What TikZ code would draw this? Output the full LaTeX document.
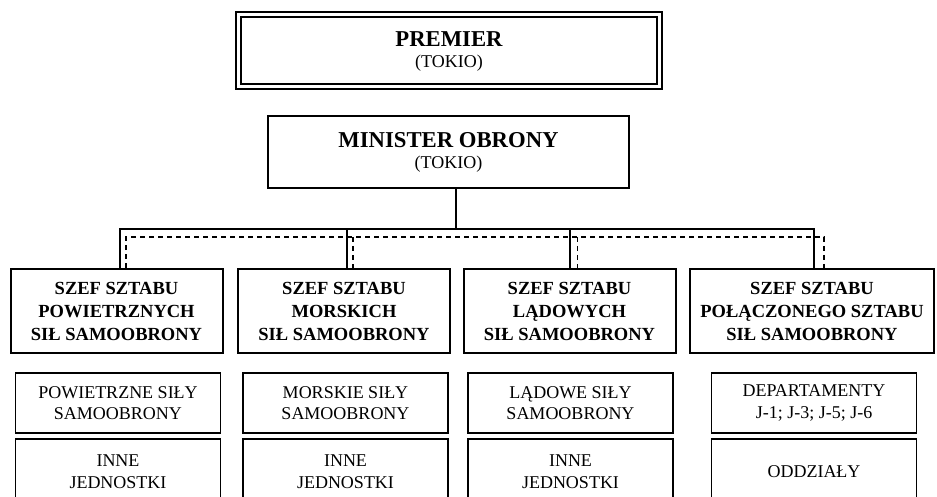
\documentclass[tikz,border=0pt]{standalone}
\usepackage{fontspec}
\setmainfont{Liberation Serif}
\usetikzlibrary{positioning}
\newcommand{\tytul}[1]{{\fontsize{22.7}{21}\selectfont\bfseries #1}}
\tikzset{
every node/.style={align=center, inner sep=0pt}, % centred lines in every box
premier/.style={draw, double, line width=2pt, double distance=3pt, minimum width=421pt, minimum height=72pt, font=\fontsize{18}{21}\selectfont}, % double frame at the top
minister/.style={draw, line width=2.5pt, minimum width=361pt, minimum height=72pt, font=\fontsize{18}{21}\selectfont},
szef/.style={draw, line width=2pt, minimum width=212pt, minimum height=84pt, font=\fontsize{18.5}{23}\selectfont\bfseries}, % chiefs of staff
sily/.style={draw, line width=1.3pt, minimum width=205pt, minimum height=60pt, font=\fontsize{18}{21.7}\selectfont}, % forces under each chief
inne/.style={sily, minimum height=66pt},
link/.style={line width=1.2pt}, % solid command line
dashlink/.style={line width=1.2pt, dash pattern=on 5pt off 4pt}, % dashed line
}

\begin{document}
\begin{tikzpicture}[x=1pt, y=-1pt]
    \useasboundingbox (0,0) rectangle (937,497);
    \clip (0,0) rectangle (937,497);

    \node[premier] (premier) at (449,51) {\tytul{PREMIER}\\(TOKIO)};
    \node[minister] (minister) at (448.5,152) {\tytul{MINISTER OBRONY}\\(TOKIO)};

    \node[szef] (szefpow) at (116.5,311) {SZEF SZTABU\\POWIETRZNYCH\\SIŁ SAMOOBRONY};
    \node[szef] (szefmor) at (344,311) {SZEF SZTABU\\MORSKICH\\SIŁ SAMOOBRONY};
    \node[szef] (szeflad) at (569.5,311) {SZEF SZTABU\\LĄDOWYCH\\SIŁ SAMOOBRONY};
    \node[szef, minimum width=244pt] (szefpol) at (812,311) {SZEF SZTABU\\POŁĄCZONEGO SZTABU\\SIŁ SAMOOBRONY};

    \node[sily] (silypow) at (118,403) {POWIETRZNE SIŁY\\SAMOOBRONY};
    \node[sily] (silymor) at (345.5,403) {MORSKIE SIŁY\\SAMOOBRONY};
    \node[sily] (silylad) at (570.5,403) {LĄDOWE SIŁY\\SAMOOBRONY};
    \node[sily] (depart) at (814,403) {DEPARTAMENTY\\J-1; J-3; J-5; J-6};

    \node[inne, below=4.7pt of silypow] (innepow) {INNE\\JEDNOSTKI};
    \node[inne, below=4.7pt of silymor] (innemor) {INNE\\JEDNOSTKI};
    \node[inne, below=4.7pt of silylad] (innelad) {INNE\\JEDNOSTKI};
    \node[inne, below=4.7pt of depart] (oddzialy) {ODDZIAŁY};

    % bus lines
    \coordinate (bus) at (456,229);
    \coordinate (s1) at (120,229);
    \coordinate (s2) at (347,229);
    \coordinate (s3) at (570,229);
    \coordinate (s4) at (814,229);
    \coordinate (d1) at (126,237);
    \coordinate (d2) at (353,237);
    \coordinate (d3) at (577.5,237);
    \coordinate (d4) at (824,237);

    \draw[link] (minister.south -| bus) -- (bus);
    \draw[link] (szefpow.north -| s1) |- (s4) -- (szefpol.north -| s4);
    \draw[link] (s2) -- (szefmor.north -| s2);
    \draw[link] (s3) -- (szeflad.north -| s3);

    \draw[dashlink] (szefpow.north -| d1) |- (d4) -- (szefpol.north -| d4);
    \draw[dashlink] (d2) -- (szefmor.north -| d2);
    \draw[dashlink] (d3) -- (szeflad.north -| d3);

\end{tikzpicture}
\end{document}
